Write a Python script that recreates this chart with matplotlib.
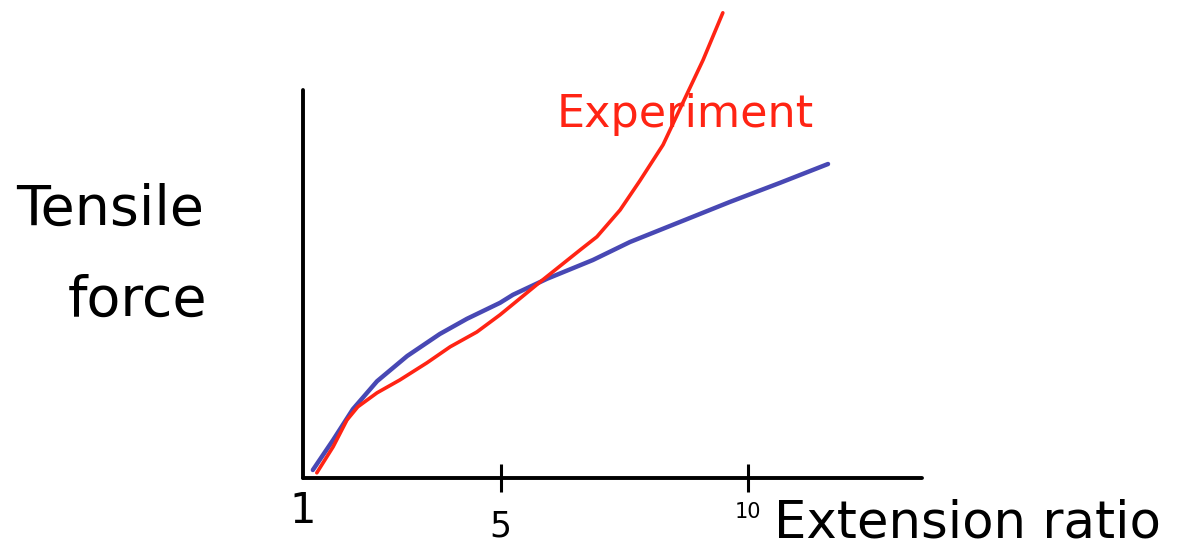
import matplotlib
matplotlib.use("Agg")
import matplotlib.pyplot as plt

# extension ratio vs tensile force (arbitrary units), sketched curves
blue_x = [1.20, 1.61, 2.01, 2.50, 3.11, 3.77, 4.32, 4.99, 5.25, 5.94, 6.87, 7.62, 8.63, 9.64, 10.66, 11.63]
blue_y = [0.20, 0.95, 1.72, 2.42, 3.05, 3.60, 3.98, 4.38, 4.58, 4.98, 5.45, 5.90, 6.40, 6.90, 7.38, 7.85]

red_x = [1.28, 1.61, 1.89, 2.11, 2.50, 2.96, 3.51, 3.98, 4.52, 4.99, 5.80, 6.61, 6.95, 7.42, 7.82, 8.29, 8.69, 9.10, 9.50]
red_y = [0.13, 0.78, 1.45, 1.78, 2.13, 2.45, 2.88, 3.28, 3.65, 4.08, 4.90, 5.70, 6.03, 6.70, 7.43, 8.33, 9.38, 10.45, 11.63]

xticks = [1, 5, 10]
xtick_labels = ["1", "5", "10"]

plt.rcParams["font.family"] = "DejaVu Sans"

fig = plt.figure(figsize=(11.97, 5.46), dpi=100)
ax = fig.add_axes([0, 0, 1, 1])
ax.set_xlim(-5.134, 19.10)
ax.set_ylim(-1.7, 11.95)

ax.plot(blue_x, blue_y, color="#4848b4", lw=3.2, solid_capstyle="round",
        solid_joinstyle="round")
ax.plot(red_x, red_y, color="#ff2414", lw=2.6, solid_capstyle="round",
        solid_joinstyle="round", clip_on=False)

# hand-drawn style axes
for side in ["top", "right"]:
    ax.spines[side].set_visible(False)
ax.spines["left"].set_position(("data", 1))
ax.spines["left"].set_bounds(0, 9.7)
ax.spines["bottom"].set_position(("data", 0))
ax.spines["bottom"].set_bounds(1, 13.53)
for side in ["left", "bottom"]:
    ax.spines[side].set_linewidth(2.8)
    ax.spines[side].set_capstyle("round")

ax.set_yticks([])
ax.set_xticks(xticks, xtick_labels)
ax.tick_params(axis="x", direction="inout", length=20, width=2.2)
ticks = ax.xaxis.get_major_ticks()
ticks[0].tick1line.set_visible(False)
for tick, pad, size in zip(ticks, [-1.5, 13, 7], [30, 25, 15]):
    tick.set_pad(pad)
    tick.label1.set_fontsize(size)

ax.text(8.73, 9.1, "Experiment", color="#ff2414", fontsize=32,
        ha="center", va="center")

fig.text(0.092, 0.615, "Tensile", fontsize=40, ha="center", va="center")
fig.text(0.115, 0.45, "force", fontsize=40, ha="center", va="center")
fig.text(0.647, 0.042, "Extension ratio", fontsize=37, ha="left", va="center")

fig.savefig("out.png", dpi=100)
